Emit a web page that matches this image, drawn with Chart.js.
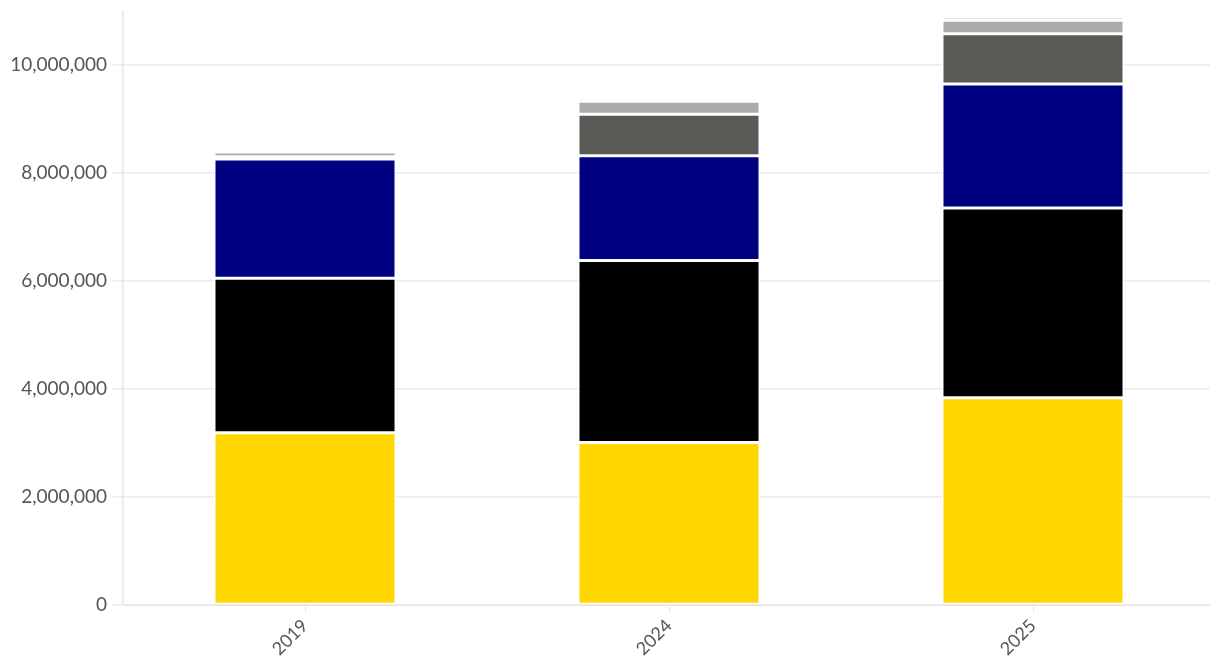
<!DOCTYPE html>
<html>
<head>
<meta charset="utf-8">
<script src="https://cdn.jsdelivr.net/npm/chart.js@4"></script>
<style>
  html, body { margin: 0; padding: 0; background: #fff; overflow: hidden; }
  #wrap { width: 1216px; height: 662px; }
</style>
</head>
<body>
<div id="wrap"><canvas id="chart" width="1216" height="662"></canvas></div>
<script>
// Years on the x axis
const years = ["2019", "2024", "2025"];

// Stacked series (bottom to top)
const yellowValues = [3190000, 3010000, 3840000];
const blackValues = [2860000, 3370000, 3510000];
const navyValues = [2210000, 1940000, 2300000];
const darkGreyValues = [40000, 770000, 930000];
const greyValues = [90000, 240000, 250000];
const lightGreyValues = [0, 60000, 70000];

// Y axis ticks
const yTicks = [0, 2000000, 4000000, 6000000, 8000000, 10000000];
const yMax = 11000000;

function series(data, color) {
  return {
    data: data,
    backgroundColor: color,
    borderColor: "#ffffff",
    borderWidth: 1.5,
    borderSkipped: false,
    categoryPercentage: 1,
    barPercentage: 0.5
  };
}

new Chart(document.getElementById("chart"), {
  type: "bar",
  data: {
    labels: years,
    datasets: [
      series(yellowValues, "#ffd700"),
      series(blackValues, "#000000"),
      series(navyValues, "#000080"),
      series(darkGreyValues, "#595955"),
      series(greyValues, "#ababab"),
      series(lightGreyValues, "#d9d9d9")
    ]
  },
  options: {
    responsive: false,
    animation: false,
    layout: { padding: { top: 11, right: 1, left: 0, bottom: 0 } },
    plugins: { legend: { display: false }, tooltip: { enabled: false } },
    scales: {
      x: {
        stacked: true,
        grid: { offset: false, drawOnChartArea: false, drawTicks: true, tickLength: 8, color: "#e6e6e6" },
        border: { color: "#e6e6e6" },
        ticks: {
          minRotation: 45,
          maxRotation: 45,
          color: "#555555",
          font: { family: "Lato", size: 18 },
          padding: 2
        },
        afterFit: (scale) => { scale.height = 57; }
      },
      y: {
        stacked: true,
        min: 0,
        max: yMax,
        grid: { color: "#ebebeb", tickLength: 10, lineWidth: 1.5 },
        border: { color: "#e6e6e6", width: 1.5 },
        ticks: {
          stepSize: 2000000,
          color: "#555555",
          font: { family: "Lato", size: 19 },
          padding: 6,
          callback: (v) => v.toLocaleString("en-US")
        },
        afterBuildTicks: (scale) => {
          scale.ticks = yTicks.map((v) => ({ value: v }));
        },
        afterFit: (scale) => {
          scale.width = 123;
          scale.paddingTop = 0;
          scale.paddingBottom = 0;
        }
      }
    }
  }
});
</script>
</body>
</html>
